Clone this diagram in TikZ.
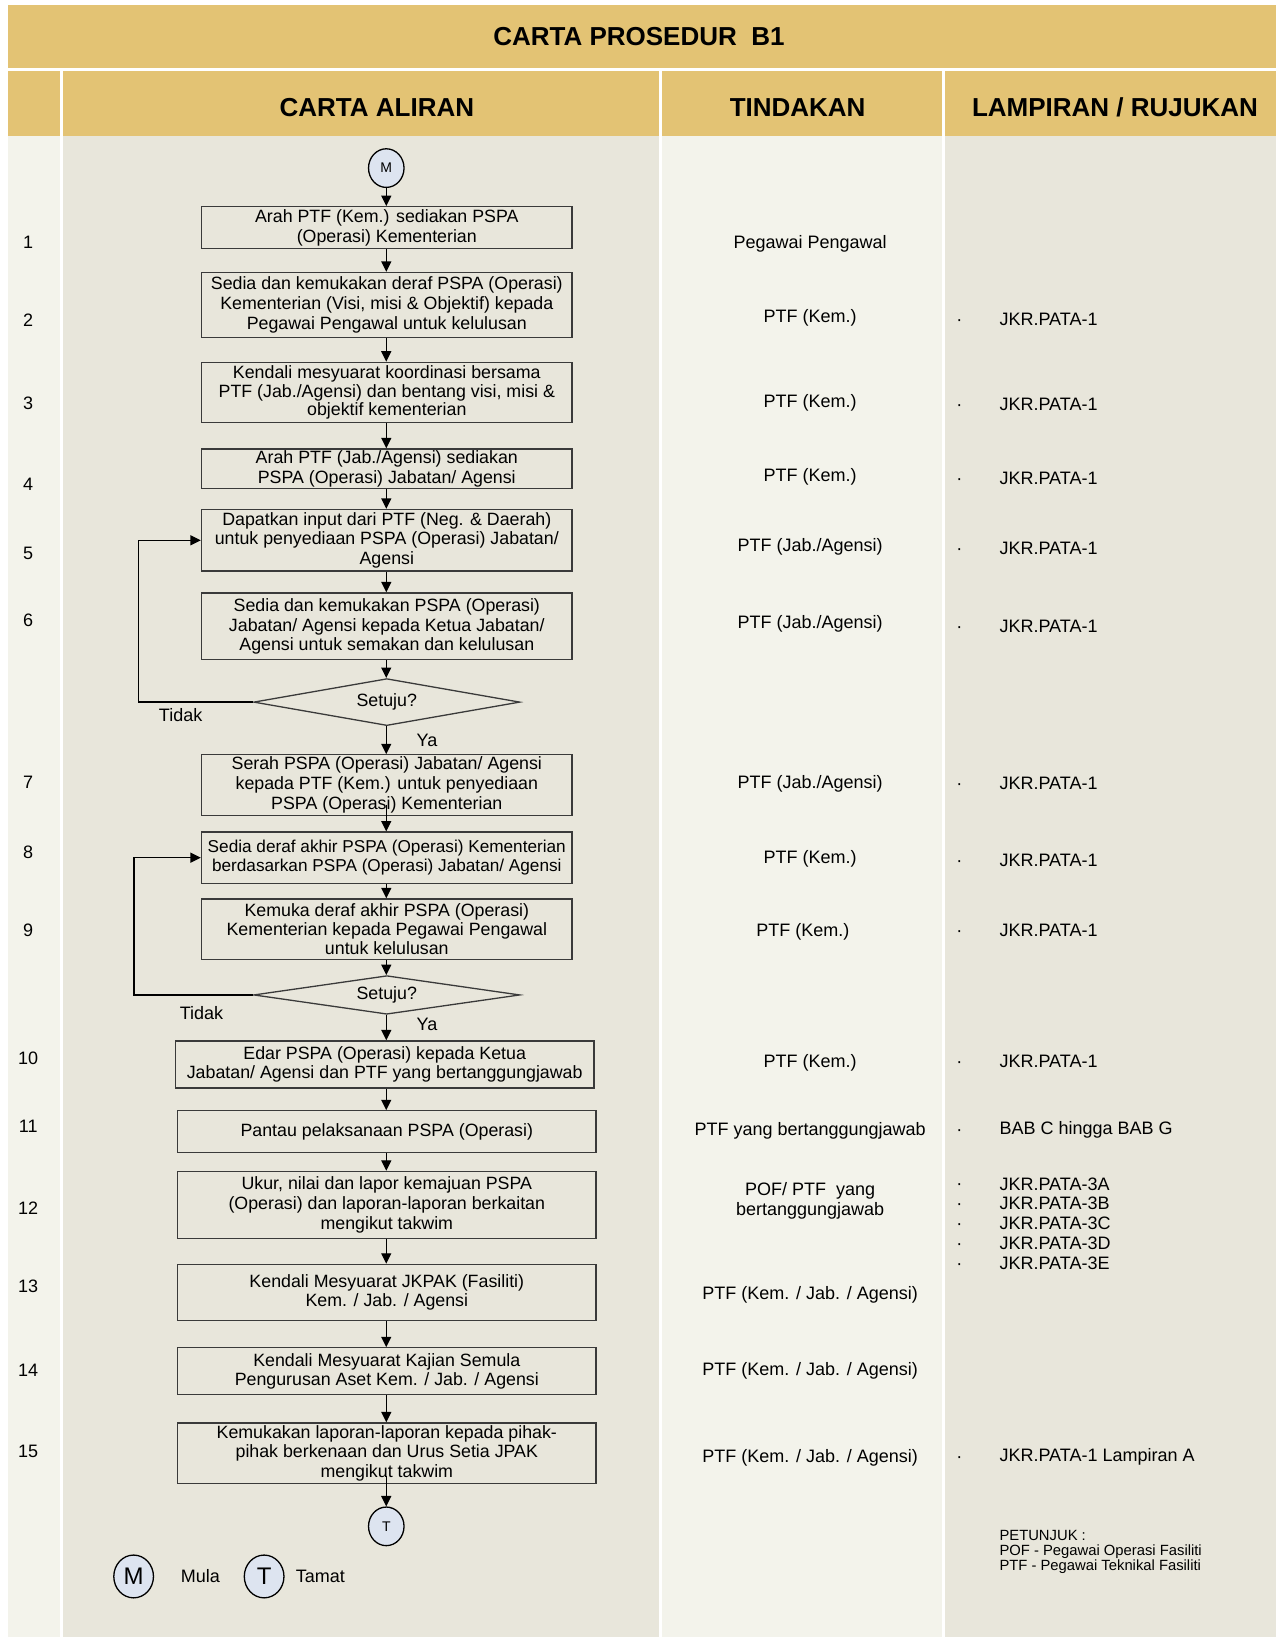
\documentclass[tikz,border=0pt]{standalone}
\usepackage{fontspec}
\setmainfont{Liberation Sans}
\usetikzlibrary{arrows.meta,shapes.geometric}
\definecolor{gold}{HTML}{E3C374}
\definecolor{colA}{HTML}{F3F3EB}
\definecolor{colB}{HTML}{E8E6DB}
\definecolor{boxline}{HTML}{3A3A3A}
\definecolor{circfill}{HTML}{DDE4F0}
\newcommand\pxu{0.5221pt}

\begin{document}
\begin{tikzpicture}[x=0.5221pt,y=-0.5221pt,
  stepbox/.style={draw=boxline, line width=0.65pt, align=center, inner sep=0pt,
    font=\fontsize{8.9}{9.9}\selectfont},
  tightbox/.style={stepbox, font=\fontsize{8.9}{7.9}\selectfont},
  decision/.style={draw=boxline, line width=0.65pt, shape=diamond, inner sep=0pt,
    font=\fontsize{8.9}{9.9}\selectfont},
  term/.style={draw=black, line width=0.65pt, fill=circfill, shape=ellipse, inner sep=0pt,
    minimum width=34*\pxu, minimum height=37*\pxu, font=\fontsize{7}{8}\selectfont},
  legterm/.style={term, minimum width=38*\pxu, minimum height=41*\pxu, font=\fontsize{12}{13}\selectfont},
  arr/.style={-{Triangle[length=5.2pt,width=5pt]}, line width=0.65pt, black},
  head/.style={font=\fontsize{13}{15}\selectfont\bfseries},
  cell/.style={font=\fontsize{9}{10.5}\selectfont, inner sep=0pt},
  note/.style={font=\fontsize{7.4}{7.9}\selectfont, inner sep=0pt, align=left, anchor=west},
  lbl/.style={font=\fontsize{9}{10.5}\selectfont, inner sep=0pt}
]
\useasboundingbox (0,0) rectangle (1222,1568);
\fill[white] (0,0) rectangle (1222,1568);

% title band and header row
\fill[gold] (8,5) rectangle (1222,65);
\fill[gold] (8,68) rectangle (57,130);
\fill[gold] (60,68) rectangle (631,130);
\fill[gold] (634,68) rectangle (902,130);
\fill[gold] (905,68) rectangle (1222,130);
% column bodies
\fill[colA] (8,130) rectangle (57,1568);
\fill[colB] (60,130) rectangle (631,1568);
\fill[colA] (634,130) rectangle (902,1568);
\fill[colB] (905,130) rectangle (1222,1568);

\node[head] (title) at (612,35) {CARTA PROSEDUR~~B1};
\node[head] (hflow) at (361,103) {CARTA ALIRAN};
\node[head] (hact) at (764,103) {TINDAKAN};
\node[head] (href) at (1068,103) {LAMPIRAN / RUJUKAN};

% flow chart
\node[term] (M) at (370,161) {M};
\node[stepbox, minimum width=355*\pxu, minimum height=40*\pxu] (b1) at (370.5,218)
  {Arah PTF (Kem.) sediakan PSPA\\(Operasi) Kementerian};
\node[stepbox, minimum width=355*\pxu, minimum height=62*\pxu] (b2) at (370.5,292)
  {Sedia dan kemukakan deraf PSPA (Operasi)\\Kementerian (Visi, misi \& Objektif) kepada\\Pegawai Pengawal untuk kelulusan};
\node[tightbox, minimum width=355*\pxu, minimum height=58*\pxu] (b3) at (370.5,376)
  {Kendali mesyuarat koordinasi bersama\\PTF (Jab./Agensi) dan bentang visi, misi \&\\objektif kementerian};
\node[stepbox, minimum width=355*\pxu, minimum height=38*\pxu] (b4) at (370.5,449)
  {Arah PTF (Jab./Agensi) sediakan\\PSPA (Operasi) Jabatan/ Agensi};
\node[stepbox, minimum width=355*\pxu, minimum height=59*\pxu] (b5) at (370.5,517.5)
  {Dapatkan input dari PTF (Neg. \& Daerah)\\untuk penyediaan PSPA (Operasi) Jabatan/\\Agensi};
\node[stepbox, minimum width=355*\pxu, minimum height=64*\pxu] (b6) at (370.5,600)
  {Sedia dan kemukakan PSPA (Operasi)\\Jabatan/ Agensi kepada Ketua Jabatan/\\Agensi untuk semakan dan kelulusan};
\node[decision, aspect=5.67, minimum width=255*\pxu, minimum height=45*\pxu] (d1) at (370.5,672.5) {Setuju?};
\node[stepbox, minimum width=355*\pxu, minimum height=58*\pxu] (b7) at (370.5,752)
  {Serah PSPA (Operasi) Jabatan/ Agensi\\kepada PTF (Kem.) untuk penyediaan\\PSPA (Operasi) Kementerian};
\node[stepbox, minimum width=355*\pxu, minimum height=49*\pxu, font=\fontsize{8.6}{9.5}\selectfont] (b8) at (370.5,821.5)
  {Sedia deraf akhir PSPA (Operasi) Kementerian\\berdasarkan PSPA (Operasi) Jabatan/ Agensi};
\node[tightbox, minimum width=355*\pxu, minimum height=58*\pxu] (b9) at (370.5,890)
  {Kemuka deraf akhir PSPA (Operasi)\\Kementerian kepada Pegawai Pengawal\\untuk kelulusan};
\node[decision, aspect=6.9, minimum width=255*\pxu, minimum height=37*\pxu] (d2) at (370.5,953) {Setuju?};
\node[stepbox, minimum width=401*\pxu, minimum height=45*\pxu] (b10) at (368.5,1019.5)
  {Edar PSPA (Operasi) kepada Ketua\\Jabatan/ Agensi dan PTF yang bertanggungjawab};
\node[stepbox, minimum width=401*\pxu, minimum height=40*\pxu] (b11) at (370.5,1084)
  {Pantau pelaksanaan PSPA (Operasi)};
\node[stepbox, minimum width=401*\pxu, minimum height=64*\pxu] (b12) at (370.5,1154)
  {Ukur, nilai dan lapor kemajuan PSPA\\(Operasi) dan laporan-laporan berkaitan\\mengikut takwim};
\node[stepbox, minimum width=401*\pxu, minimum height=54*\pxu] (b13) at (370.5,1238)
  {Kendali Mesyuarat JKPAK (Fasiliti)\\Kem. / Jab. / Agensi};
\node[stepbox, minimum width=401*\pxu, minimum height=45*\pxu] (b14) at (370.5,1313.5)
  {Kendali Mesyuarat Kajian Semula\\Pengurusan Aset Kem. / Jab. / Agensi};
\node[stepbox, minimum width=401*\pxu, minimum height=58*\pxu] (b15) at (370.5,1392)
  {Kemukakan laporan-laporan kepada pihak-\\pihak berkenaan dan Urus Setia JPAK\\mengikut takwim};
\node[term] (T) at (370,1462) {T};

% connectors
\draw[arr] (M.south) -- (M.south |- b1.north);
\foreach \a/\b in {b1/b2,b2/b3,b3/b4,b4/b5,b5/b6,b6/d1,d1/b7,b8/b9,b9/d2,d2/b10,b10/b11,b11/b12,b12/b13,b13/b14,b14/b15}
  \draw[arr] (\a.south -| M.south) -- (M.south |- \b.north);
% these two leave from inside their boxes
\draw[arr] ([yshift=5.7pt]b7.south -| M.south) -- (M.south |- b8.north);
\draw[arr] ([yshift=4.2pt]b15.south -| M.south) -- (M.south |- T.north);
\draw[arr] (d1.west) -- ++(-110,0) |- (b5.west);
\draw[arr] (d2.west) -- ++(-114,0) |- (b8.west);

\node[lbl] (no1) at (173,685) {Tidak};
\node[lbl] (ya1) at (409,709) {Ya};
\node[lbl] (no2) at (193,970) {Tidak};
\node[lbl] (ya2) at (409,981) {Ya};

% legend
\node[legterm] (LM) at (128,1510) {M};
\node[lbl] (LMt) at (192,1510) {Mula};
\node[legterm] (LT) at (253,1510) {T};
\node[lbl, anchor=west] (LTt) at (283,1510) {Tamat};

% step numbers
\foreach \n/\y in {1/232,2/307,3/386,4/464,5/530,6/594,7/749,8/816,9/891,10/1014,11/1079,12/1157,13/1232,14/1313,15/1390}
  \node[cell] (n\n) at (27,\y) {\n};

% actions
\node[cell] (t1) at (776,234) {Pegawai Pengawal};
\node[cell] (t2) at (776,304) {PTF (Kem.)};
\node[cell] (t3) at (776,386) {PTF (Kem.)};
\node[cell] (t4) at (776,457) {PTF (Kem.)};
\node[cell] (t5) at (776,524) {PTF (Jab./Agensi)};
\node[cell] (t6) at (776,598) {PTF (Jab./Agensi)};
\node[cell] (t7) at (776,751) {PTF (Jab./Agensi)};
\node[cell] (t8) at (776,823) {PTF (Kem.)};
\node[cell] (t9) at (769,893) {PTF (Kem.)};
\node[cell] (t10) at (776,1018) {PTF (Kem.)};
\node[cell] (t11) at (776,1083) {PTF yang bertanggungjawab};
\node[cell, align=center, font=\fontsize{9}{9.9}\selectfont] (t12) at (776,1150.5) {POF/ PTF~~yang\\bertanggungjawab};
\node[cell] (t13) at (776,1240) {PTF (Kem. / Jab. / Agensi)};
\node[cell] (t14) at (776,1313) {PTF (Kem. / Jab. / Agensi)};
\node[cell] (t15) at (776,1396) {PTF (Kem. / Jab. / Agensi)};

% references
\foreach \k/\y/\txt in {2/306/JKR.PATA-1,3/387/JKR.PATA-1,4/458/JKR.PATA-1,5/525/JKR.PATA-1,
    6/600/JKR.PATA-1,7/750/JKR.PATA-1,8/824/JKR.PATA-1,9/891/JKR.PATA-1,10/1017/JKR.PATA-1,
    11/1082/BAB C hingga BAB G,12a/1134/JKR.PATA-3A,12b/1153/JKR.PATA-3B,12c/1172/JKR.PATA-3C,
    12d/1191/JKR.PATA-3D,12e/1210/JKR.PATA-3E,15/1395/JKR.PATA-1 Lampiran A}{
  \node[cell] (dot\k) at (919,\y+3) {·};
  \node[cell, anchor=west] (r\k) at (957,\y) {\txt};
}

\node[note] (pet1) at (957,1471) {PETUNJUK :};
\node[note] (pet2) at (957,1486) {POF - Pegawai Operasi Fasiliti};
\node[note] (pet3) at (957,1501) {PTF - Pegawai Teknikal Fasiliti};
\end{tikzpicture}
\end{document}
